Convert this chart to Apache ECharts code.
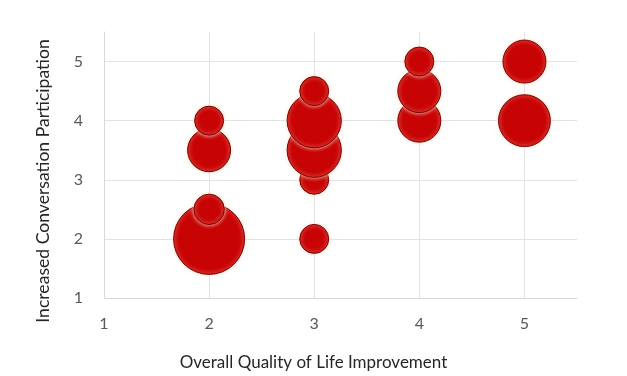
<!DOCTYPE html>
<html>
<head>
<meta charset="utf-8">
<script src="https://cdn.jsdelivr.net/npm/echarts@6/dist/echarts.min.js"></script>
<style>
  html, body { margin: 0; padding: 0; background: #fff; }
  #chart { width: 627px; height: 376px; }
</style>
</head>
<body>
<div id="chart"></div>
<script>
// bubble data (sorted so higher bubbles sit on top)
const qualityX = [2, 2, 2, 2, 3, 3, 3, 3, 3, 4, 4, 4, 5, 5];
const participationY = [2, 2.5, 3.5, 4, 2, 3, 3.5, 4, 4.5, 4, 4.5, 5, 4, 5];
const bubbleSize = [6, 1.1, 2.2, 1, 1, 1, 3.5, 3.5, 1, 2.2, 2.2, 1, 3.2, 2.2];
const tickLabels = ["1", "2", "3", "4", "5"];

const chart = echarts.init(document.getElementById("chart"));

const points = qualityX.map((x, i) => [x, participationY[i], bubbleSize[i]]);

const labelFont = "Lato, 'Open Sans', sans-serif";

const option = {
  animation: false,
  grid: { left: 104, right: 50, top: 32, bottom: 77 },
  xAxis: {
    type: "value",
    min: 1,
    max: 5.5,
    interval: 1,
    name: "Overall Quality of Life Improvement",
    nameLocation: "middle",
    nameGap: 56,
    // title is centred on the whole picture, not on the plot
    nameTextStyle: {
      fontFamily: labelFont,
      fontSize: 17,
      color: "#262626",
      verticalAlign: "top",
      padding: [0, 54, 0, 0],
    },
    axisLine: { lineStyle: { color: "#d9d9d9" } },
    axisTick: { show: false },
    axisLabel: {
      margin: 18,
      fontFamily: labelFont,
      fontSize: 16,
      color: "#595959",
      formatter: (v) => (tickLabels.includes(String(v)) ? String(v) : ""),
    },
    splitLine: { show: true, showMaxLine: false, lineStyle: { color: "#e3e3e3" } },
  },
  yAxis: {
    type: "value",
    min: 1,
    max: 5.5,
    interval: 1,
    name: "Increased Conversation Participation",
    nameLocation: "middle",
    nameGap: 52,
    nameTextStyle: {
      fontFamily: labelFont,
      fontSize: 17.6,
      color: "#262626",
      padding: [0, 32, 0, 0],
    },
    axisLine: { show: true, lineStyle: { color: "#d9d9d9" } },
    axisTick: { show: false },
    axisLabel: {
      margin: 21,
      fontFamily: labelFont,
      fontSize: 16,
      color: "#595959",
      formatter: (v) => (tickLabels.includes(String(v)) ? String(v) : ""),
    },
    splitLine: { show: true, showMaxLine: false, lineStyle: { color: "#e3e3e3" } },
  },
  series: [
    {
      type: "scatter",
      data: points,
      symbolSize: (val) => 29 * Math.sqrt(val[2]),
      itemStyle: {
        color: "#c80303",
        opacity: 1,
        borderColor: "#7a0000",
        borderWidth: 1,
        shadowColor: "rgba(255, 225, 205, 1)",
        shadowBlur: 4,
      },
    },
  ],
};

chart.setOption(option);
</script>
</body>
</html>
